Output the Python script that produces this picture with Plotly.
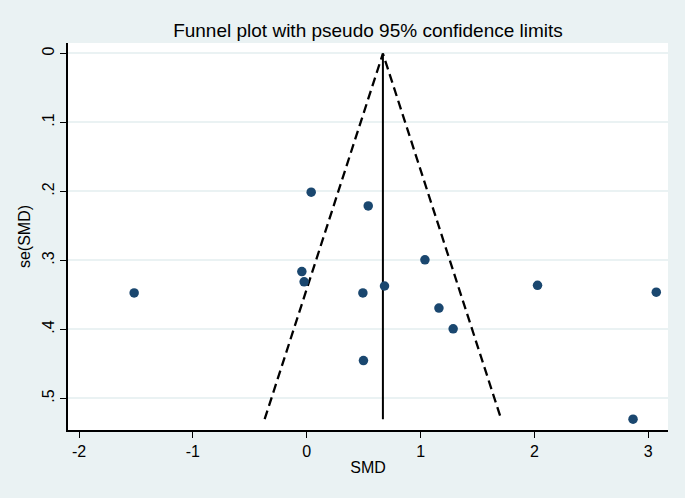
import plotly.graph_objects as go

# Study-level data
smd = [-1.516, 0.039, 0.540, -0.043, -0.023, 0.493, 0.683, 1.038, 1.161, 1.286, 0.498, 2.027, 3.070, 2.866]
se_smd = [0.347, 0.201, 0.221, 0.316, 0.331, 0.347, 0.337, 0.299, 0.369, 0.399, 0.445, 0.336, 0.346, 0.530]

# Pooled estimate and funnel extent
theta = 0.669
se_max = 0.530
z95 = 1.96

x_ticks = [-2, -1, 0, 1, 2, 3]
x_ticklabels = ["-2", "-1", "0", "1", "2", "3"]
y_ticks = [0, 0.1, 0.2, 0.3, 0.4, 0.5]
y_ticklabels = ["0", ".1", ".2", ".3", ".4", ".5"]

title_text = "Funnel plot with pseudo 95% confidence limits"

BG = "#eaf2f3"
NAVY = "#1a476f"
FONT = "Liberation Sans"

fig = go.Figure()

# pseudo 95% confidence limits
fig.add_trace(go.Scatter(
    x=[theta - z95 * se_max, theta, theta + z95 * se_max],
    y=[se_max, 0, se_max],
    mode="lines",
    line=dict(color="black", width=2.3, dash="9px,5px"),
    hoverinfo="skip", showlegend=False,
))
# pooled estimate line
fig.add_trace(go.Scatter(
    x=[theta, theta], y=[se_max, 0],
    mode="lines",
    line=dict(color="black", width=2),
    hoverinfo="skip", showlegend=False,
))
# studies
fig.add_trace(go.Scatter(
    x=smd, y=se_smd, mode="markers",
    marker=dict(color=NAVY, size=9.5),
    showlegend=False,
))

fig.update_layout(
    width=685, height=498,
    margin=dict(l=68, r=17, t=43, b=68, autoexpand=False),
    paper_bgcolor=BG,
    plot_bgcolor="white",
    font=dict(family=FONT, color="black", size=16),
    title=dict(text=title_text, x=0.5, xref="paper", y=1 - 30 / 498, yref="container",
               yanchor="middle", xanchor="center", font=dict(size=19, family=FONT, color="black")),
    showlegend=False,
)

fig.update_xaxes(
    range=[-2.097, 3.173],
    tickvals=x_ticks, ticktext=x_ticklabels,
    ticks="outside", ticklen=6, tickwidth=1.2, tickcolor="black",
    showline=True, linecolor="black", linewidth=1.5,
    showgrid=False, zeroline=False, automargin=False,
    title=dict(text="SMD", font=dict(size=16), standoff=3),
    tickfont=dict(size=16),
)
fig.update_yaxes(
    range=[0.5457, -0.0152],
    tickvals=y_ticks, ticktext=y_ticklabels,
    tickangle=-90,
    ticks="outside", ticklen=6, tickwidth=1.2, tickcolor="black",
    showline=True, linecolor="black", linewidth=1.5,
    showgrid=True, gridcolor=BG, gridwidth=1.5,
    zeroline=False, automargin=False,
    ticklabelstandoff=0,
    title=dict(text="se(SMD)", font=dict(size=16), standoff=5),
    tickfont=dict(size=16),
)

fig.write_html(
    "out.html",
    config={"displayModeBar": False},
    post_script="document.body.style.margin='0';document.body.style.background='%s';" % BG,
)
